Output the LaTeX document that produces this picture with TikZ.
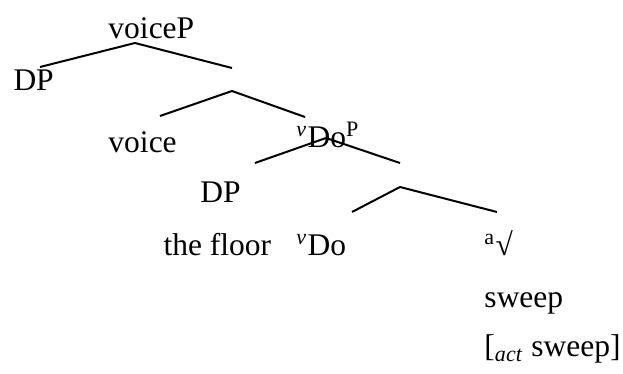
\documentclass[tikz,border=0pt]{standalone}
\usepackage{fontspec}
\setmainfont{Liberation Serif}
\usetikzlibrary{calc}

\begin{document}
\begin{tikzpicture}[x=0.4pt,y=-0.4pt,
  lbl/.style={anchor=base west,inner sep=0pt,font=\fontsize{12.6}{15}\selectfont},
  branch/.style={line width=0.8pt}]
  \useasboundingbox (0,0) rectangle (623,374);
  % labels
  \node[lbl] (voiceP) at (108,38) {voiceP};
  \node[lbl] (dpA) at (13,90) {DP};
  \node[lbl] (voice) at (108,152) {voice};
  \node[lbl] (vdoP) at (296,147) {\textsuperscript{\textit{v}}Do\textsuperscript{P}};
  \node[lbl] (dpB) at (200,202) {DP};
  \node[lbl] (floor) at (163,255) {the floor};
  \node[lbl] (vdo) at (296,255) {\textsuperscript{\textit{v}}Do};
  \node[lbl] (root) at (484,255) {\textsuperscript{a}√};
  \node[lbl] (sweep) at (484,308) {sweep};
  \node[lbl] (actsweep) at (484,357) {[\textsubscript{\textit{act}} sweep]};
  % branch points and ends
  \coordinate (t1) at (135,43); \coordinate (l1) at (40,67);   \coordinate (r1) at (232,68);
  \coordinate (t2) at (232,91); \coordinate (l2) at (160,116); \coordinate (r2) at (305,117);
  \coordinate (t3) at (326,138); \coordinate (l3) at (255,163); \coordinate (r3) at (400,163);
  \coordinate (t4) at (400,187); \coordinate (l4) at (352,212); \coordinate (r4) at (497,212);
  \foreach \t/\l/\r in {t1/l1/r1,t2/l2/r2,t3/l3/r3,t4/l4/r4}{
    \draw[branch] (\l) -- (\t) -- (\r);
  }
\end{tikzpicture}
\end{document}
